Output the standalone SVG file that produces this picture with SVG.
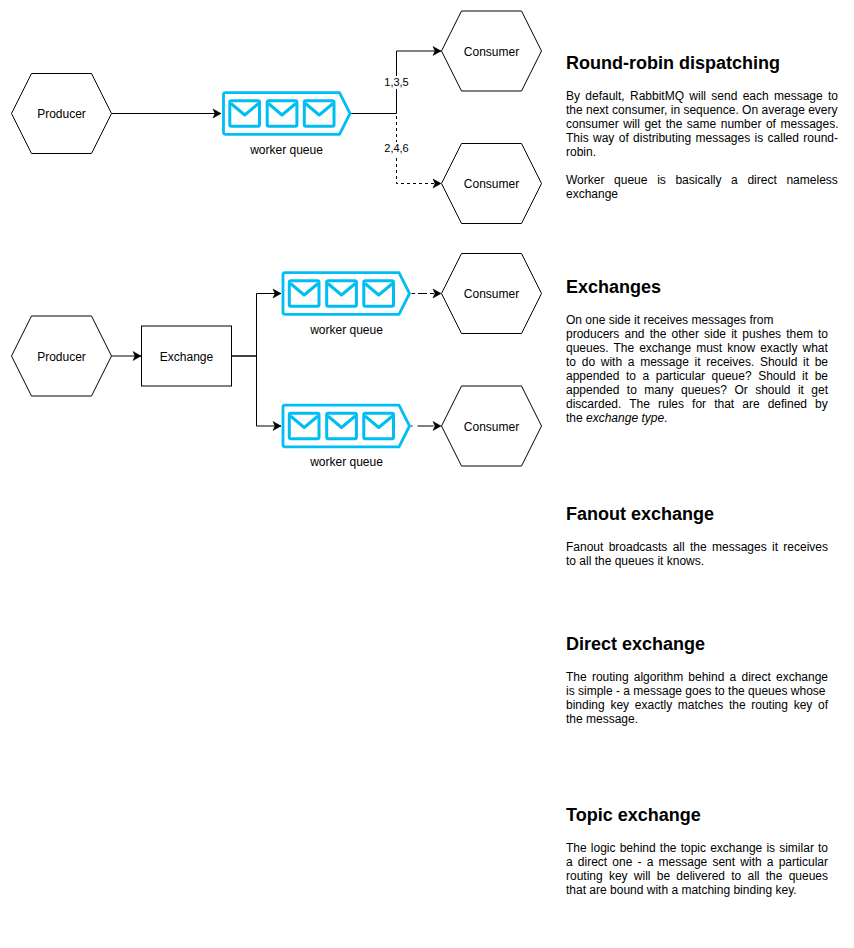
<svg xmlns="http://www.w3.org/2000/svg" xmlns:xlink="http://www.w3.org/1999/xlink" width="854" height="948" viewBox="0 0 854 948">
<style>
text{font-family:"Liberation Sans",Arial,sans-serif;font-size:12px;fill:#000}
.c{text-anchor:middle}
.lbl{font-size:11px}
.h{font-size:18px;font-weight:bold}
.shape{fill:#fff;stroke:#000;stroke-width:1}
.edge{fill:none;stroke:#000;stroke-width:1}
.dash{stroke-dasharray:3 3}
.q{fill:none;stroke:#00BEF2;stroke-width:2.8;stroke-linejoin:round}
.e{fill:none;stroke:#00BEF2;stroke-width:3;stroke-linejoin:round}
</style>
<defs>
<marker id="arrow" markerUnits="userSpaceOnUse" markerWidth="10" markerHeight="11" refX="8" refY="4.5" orient="auto" overflow="visible">
<path d="M0 0L8 4.5L0 9L2 4.5Z" fill="#000" stroke="#000" stroke-width="0.5"/>
</marker>
<g id="queue-icon">
<path class="q" d="M225.5 92.7H339.5L350 113.5L339.5 134.3H225.5Q223.5 134.3 223.5 132.3V94.7Q223.5 92.7 225.5 92.7Z"/>
<rect class="e" x="229.8" y="100.8" width="29.7" height="25.4" rx="1.5"/><path class="e" d="M231 103.5L244.7 115L258.5 103.5"/>
<rect class="e" x="267.2" y="100.8" width="29.7" height="25.4" rx="1.5"/><path class="e" d="M268.4 103.5L282 115L295.8 103.5"/>
<rect class="e" x="304.3" y="100.8" width="29.7" height="25.4" rx="1.5"/><path class="e" d="M305.5 103.5L319.2 115L333 103.5"/>
</g>
</defs>
<rect width="854" height="948" fill="#fff"/>
<g id="connectors">
<path class="edge" marker-end="url(#arrow)" d="M111.5 113.5H221"/>
<path class="edge" marker-end="url(#arrow)" d="M351 113.5H396.5V51H441"/>
<path class="edge dash" marker-end="url(#arrow)" d="M351 113.5H396.5V183.5H441"/>
<path class="edge" marker-end="url(#arrow)" d="M111.5 356H141"/>
<path class="edge" marker-end="url(#arrow)" d="M231.5 356H256.5V293.5H281"/>
<path class="edge" marker-end="url(#arrow)" d="M231.5 356H256.5V426H281"/>
<path class="edge" stroke-dasharray="3.5 3 9 3 4 20" marker-end="url(#arrow)" d="M411.5 293.5H441"/>
<path class="edge" stroke-dasharray="1.5 5 16 20" marker-end="url(#arrow)" d="M411 426H441"/>
<rect x="385" y="76" width="23" height="13" fill="#fff"/>
<text class="c lbl" x="396.5" y="86">1,3,5</text>
<rect x="385" y="142" width="23" height="13" fill="#fff"/>
<text class="c lbl" x="396.5" y="152">2,4,6</text>
</g>
<g id="producer-1"><path class="shape" d="M31.5 73.5H91.5L111.5 113.5L91.5 153.5H31.5L11.5 113.5Z"/><text class="c" x="61.5" y="117.5">Producer</text></g>
<g id="queue-1"><use href="#queue-icon" xlink:href="#queue-icon"/><text class="c" x="286.5" y="154">worker queue</text></g>
<g id="consumer-1"><path class="shape" d="M461.5 11H521.5L541.5 51L521.5 91H461.5L441.5 51Z"/><text class="c" x="491.5" y="55.5">Consumer</text></g>
<g id="consumer-2"><path class="shape" d="M461.5 143.5H521.5L541.5 183.5L521.5 223.5H461.5L441.5 183.5Z"/><text class="c" x="491.5" y="187.5">Consumer</text></g>
<g id="producer-2"><path class="shape" d="M31.5 316H91.5L111.5 356L91.5 396H31.5L11.5 356Z"/><text class="c" x="61.5" y="360.5">Producer</text></g>
<g id="exchange"><rect class="shape" x="141.5" y="326" width="90" height="60"/><text class="c" x="186.5" y="360.5">Exchange</text></g>
<g id="queue-2"><use href="#queue-icon" xlink:href="#queue-icon" transform="translate(59.5 180)"/><text class="c" x="346.5" y="334">worker queue</text></g>
<g id="queue-3"><use href="#queue-icon" xlink:href="#queue-icon" transform="translate(59.5 312.5)"/><text class="c" x="346.5" y="466">worker queue</text></g>
<g id="consumer-3"><path class="shape" d="M461.5 253.5H521.5L541.5 293.5L521.5 333.5H461.5L441.5 293.5Z"/><text class="c" x="491.5" y="297.5">Consumer</text></g>
<g id="consumer-4"><path class="shape" d="M461.5 386H521.5L541.5 426L521.5 466H461.5L441.5 426Z"/><text class="c" x="491.5" y="430.5">Consumer</text></g>
<g id="notes">
<text class="h" x="566" y="69">Round-robin dispatching</text>
<text x="566" y="100" word-spacing="1.98">By default, RabbitMQ will send each message to</text>
<text x="566" y="114">the next consumer, in sequence. On average every</text>
<text x="566" y="128" word-spacing="1.2">consumer will get the same number of messages.</text>
<text x="566" y="142" word-spacing="1.03">This way of distributing messages is called round-</text>
<text x="566" y="156">robin.</text>
<text x="566" y="184" word-spacing="6.32">Worker queue is basically a direct nameless</text>
<text x="566" y="198">exchange</text>
<text class="h" x="566" y="293">Exchanges</text>
<text x="566" y="324">On one side it receives messages from</text>
<text x="566" y="338" word-spacing="1.82">producers and the other side it pushes them to</text>
<text x="566" y="352" word-spacing="1.65">queues. The exchange must know exactly what</text>
<text x="566" y="366" word-spacing="2.36">to do with a message it receives. Should it be</text>
<text x="566" y="380" word-spacing="3.21">appended to a particular queue? Should it be</text>
<text x="566" y="394" word-spacing="4.07">appended to many queues? Or should it get</text>
<text x="566" y="408" word-spacing="4.74">discarded. The rules for that are defined by</text>
<text x="566" y="422">the <tspan font-style="italic">exchange type</tspan>.</text>
<text class="h" x="566" y="520">Fanout exchange</text>
<text x="566" y="551" word-spacing="1.98">Fanout broadcasts all the messages it receives</text>
<text x="566" y="565">to all the queues it knows.</text>
<text class="h" x="566" y="650">Direct exchange</text>
<text x="566" y="681" word-spacing="1.87">The routing algorithm behind a direct exchange</text>
<text x="566" y="695">is simple - a message goes to the queues whose</text>
<text x="566" y="709" word-spacing="2.37">binding key exactly matches the routing key of</text>
<text x="566" y="723">the message.</text>
<text class="h" x="566" y="821">Topic exchange</text>
<text x="566" y="852" word-spacing="0.82">The logic behind the topic exchange is similar to</text>
<text x="566" y="866" word-spacing="1.84">a direct one - a message sent with a particular</text>
<text x="566" y="880" word-spacing="2.9">routing key will be delivered to all the queues</text>
<text x="566" y="894">that are bound with a matching binding key.</text>
</g>
</svg>
